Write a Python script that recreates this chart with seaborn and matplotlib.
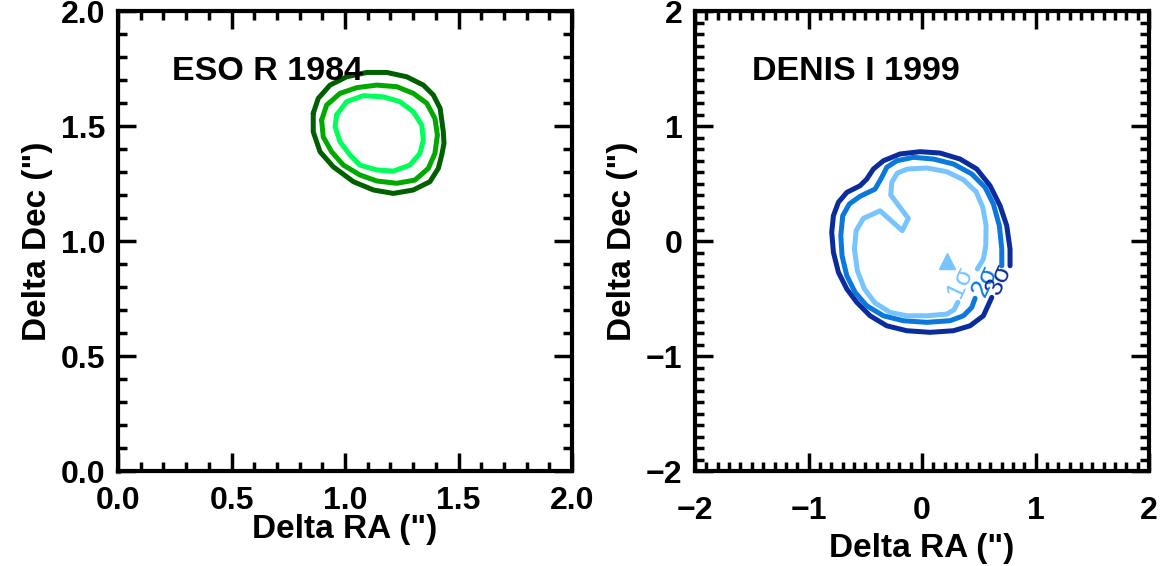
import numpy as np
import pandas as pd
import seaborn as sns
from matplotlib import pyplot as plt
from matplotlib.ticker import MultipleLocator

# ---- data ----
# ESO R 1984 contours (closed), arcsec
eso_outer_x = [0.860, 0.882, 0.934, 1.007, 1.096, 1.184, 1.272, 1.345, 1.389, 1.419, 1.433,
               1.436, 1.426, 1.411, 1.374, 1.301, 1.213, 1.125, 1.037, 0.948, 0.890, 0.860]
eso_outer_y = [1.555, 1.620, 1.678, 1.714, 1.733, 1.733, 1.714, 1.678, 1.635, 1.577, 1.475,
               1.425, 1.374, 1.316, 1.258, 1.222, 1.207, 1.222, 1.258, 1.323, 1.388, 1.475]
eso_mid_x = [0.897, 0.919, 0.978, 1.052, 1.140, 1.228, 1.301, 1.360, 1.396, 1.407, 1.396,
             1.367, 1.308, 1.228, 1.140, 1.066, 0.993, 0.941, 0.904]
eso_mid_y = [1.526, 1.591, 1.642, 1.667, 1.678, 1.671, 1.642, 1.599, 1.533, 1.461, 1.381,
             1.316, 1.265, 1.251, 1.261, 1.287, 1.330, 1.388, 1.453]
eso_in_x = [0.963, 1.007, 1.081, 1.169, 1.242, 1.301, 1.338, 1.345, 1.330, 1.286, 1.213,
            1.140, 1.066, 1.022, 0.978, 0.956]
eso_in_y = [1.548, 1.606, 1.632, 1.627, 1.606, 1.562, 1.504, 1.439, 1.381, 1.330, 1.304,
            1.309, 1.330, 1.374, 1.432, 1.497]

# DENIS I 1999 contours (open where the labels sit)
den_3s_x = [0.775, 0.775, 0.746, 0.687, 0.599, 0.482, 0.335, 0.159, -0.018, -0.194, -0.341,
            -0.429, -0.487, -0.546, -0.663, -0.737, -0.781, -0.796, -0.781, -0.737, -0.663,
            -0.575, -0.458, -0.311, -0.135, 0.070, 0.276, 0.423, 0.540, 0.614]
den_3s_y = [-0.215, -0.070, 0.133, 0.307, 0.481, 0.626, 0.713, 0.765, 0.777, 0.757, 0.698,
            0.626, 0.539, 0.481, 0.423, 0.337, 0.220, 0.076, -0.098, -0.272, -0.417,
            -0.533, -0.650, -0.737, -0.780, -0.794, -0.780, -0.737, -0.650, -0.490]
den_2s_x = [0.702, 0.702, 0.681, 0.628, 0.555, 0.438, 0.276, 0.100, -0.077, -0.223, -0.311,
            -0.355, -0.414, -0.546, -0.641, -0.699, -0.716, -0.705, -0.663, -0.590, -0.487,
            -0.341, -0.165, 0.041, 0.247, 0.364, 0.438, 0.467]
den_2s_y = [-0.215, -0.070, 0.133, 0.322, 0.467, 0.583, 0.670, 0.713, 0.728, 0.698, 0.641,
            0.554, 0.452, 0.389, 0.322, 0.220, 0.046, -0.128, -0.302, -0.446, -0.563,
            -0.650, -0.693, -0.707, -0.693, -0.650, -0.577, -0.498]
den_1s_x = [0.487, 0.540, 0.561, 0.564, 0.535, 0.476, 0.364, 0.218, 0.041, -0.130, -0.218,
            -0.267, -0.276, -0.121, -0.174, -0.370, -0.517, -0.581, -0.596, -0.570, -0.508,
            -0.414, -0.282, -0.135, 0.041, 0.218, 0.282, 0.315]
den_1s_y = [-0.243, -0.157, -0.041, 0.133, 0.293, 0.429, 0.533, 0.603, 0.635, 0.626, 0.591,
            0.510, 0.400, 0.197, 0.090, 0.263, 0.197, 0.090, -0.070, -0.258, -0.417,
            -0.539, -0.620, -0.650, -0.650, -0.635, -0.597, -0.533]
den_star = (0.218, -0.171)
sigma_labels = ["1σ", "2σ", "3σ"]
sigma_pos = [(0.34, -0.36), (0.55, -0.35), (0.68, -0.33)]

green = ["#006000", "#00a800", "#00ff5a"]
blue = ["#0a2c9c", "#0a78dc", "#78c4ff"]

sns.set_theme(style="ticks")
plt.rcParams["font.family"] = ["Liberation Sans", "DejaVu Sans"]
plt.rcParams["font.weight"] = "bold"
plt.rcParams["text.color"] = "black"
plt.rcParams["axes.labelcolor"] = "black"
plt.rcParams["xtick.color"] = "black"
plt.rcParams["ytick.color"] = "black"

fig = plt.figure(figsize=(11.66, 5.66), dpi=100)
ax1 = fig.add_axes([0.1012, 0.1678, 0.3894, 0.8127])
ax2 = fig.add_axes([0.5961, 0.1678, 0.3894, 0.8127])

for xs, ys, c in zip([eso_outer_x, eso_mid_x, eso_in_x], [eso_outer_y, eso_mid_y, eso_in_y], green):
    d = pd.DataFrame({"x": xs + xs[:1], "y": ys + ys[:1]})
    sns.lineplot(data=d, x="x", y="y", sort=False, estimator=None, color=c, lw=3.6, ax=ax1)
ax1.plot([0], [0], "s", color="#00a000", ms=3, clip_on=False)

for xs, ys, c in zip([den_3s_x, den_2s_x, den_1s_x], [den_3s_y, den_2s_y, den_1s_y], blue):
    d = pd.DataFrame({"x": xs, "y": ys})
    sns.lineplot(data=d, x="x", y="y", sort=False, estimator=None, color=c, lw=3.6, ax=ax2)
ax2.plot([den_star[0]], [den_star[1]], "^", color=blue[2], ms=11)
for lab, (px, py), c in zip(sigma_labels, sigma_pos, blue[::-1]):
    ax2.text(px, py, lab, color=c, fontsize=19, fontweight="normal", rotation=65,
             ha="center", va="center")

ax1.text(0.238, 1.735, "ESO R 1984", fontsize=24.5, fontweight="bold", va="center")
ax2.text(-1.498, 1.478, "DENIS I 1999", fontsize=24.5, fontweight="bold", va="center")

ax1.set_xlim(0, 2)
ax1.set_ylim(0, 2)
ax1.xaxis.set_major_locator(MultipleLocator(0.5))
ax1.yaxis.set_major_locator(MultipleLocator(0.5))
ax1.xaxis.set_minor_locator(MultipleLocator(0.1))
ax1.yaxis.set_minor_locator(MultipleLocator(0.1))
ax1.xaxis.set_major_formatter(lambda v, p: f"{v:.1f}")
ax1.yaxis.set_major_formatter(lambda v, p: f"{v:.1f}")

ax2.set_xlim(-2, 2)
ax2.set_ylim(-2, 2)
ax2.xaxis.set_major_locator(MultipleLocator(1))
ax2.yaxis.set_major_locator(MultipleLocator(1))
ax2.xaxis.set_minor_locator(MultipleLocator(0.1))
ax2.yaxis.set_minor_locator(MultipleLocator(0.1))
ax2.xaxis.set_major_formatter(lambda v, p: f"{v:.0f}".replace("-", "\u2212"))
ax2.yaxis.set_major_formatter(lambda v, p: f"{v:.0f}".replace("-", "\u2212"))

for ax in (ax1, ax2):
    for s in ax.spines.values():
        s.set_visible(True)
        s.set_linewidth(3)
        s.set_color("black")
    ax.tick_params(which="both", direction="in", top=True, right=True, width=2.5,
                   color="black", labelcolor="black", labelsize=23, pad=9)
    ax.tick_params(which="major", length=13)
    ax.tick_params(which="minor", length=6.5)
    for t in ax.get_xticklabels() + ax.get_yticklabels():
        t.set_fontweight("bold")
    ax.set_ylabel('Delta Dec (")', fontsize=24, fontweight="bold", color="black", labelpad=6)
    ax.set_facecolor("white")

# the two panels sit their x labels at different heights
ax1.tick_params(axis="x", which="both", pad=11)
ax2.tick_params(axis="x", which="both", pad=18)
ax1.set_xlabel('Delta RA (")', fontsize=24, fontweight="bold", color="black", labelpad=-2)
ax2.set_xlabel('Delta RA (")', fontsize=24, fontweight="bold", color="black", labelpad=5)

fig.savefig("out.png", dpi=100, facecolor="white")
